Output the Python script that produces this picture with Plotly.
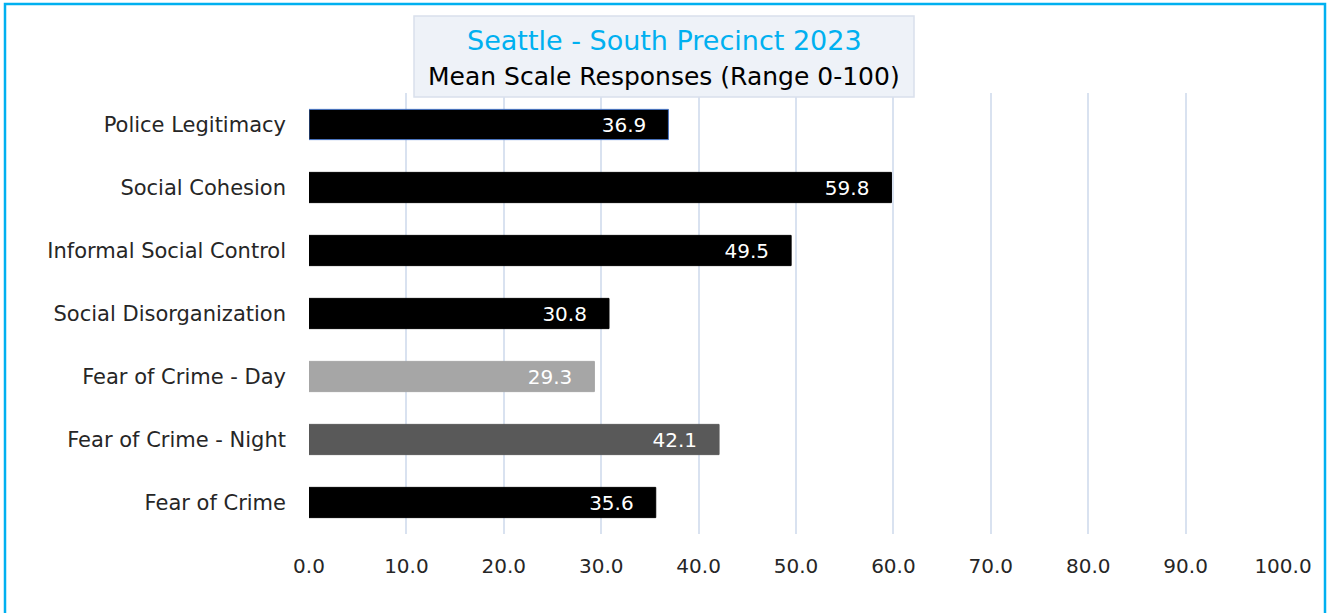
import plotly.graph_objects as go

categories = ["Police Legitimacy", "Social Cohesion", "Informal Social Control",
              "Social Disorganization", "Fear of Crime - Day", "Fear of Crime - Night",
              "Fear of Crime"]
values = [36.9, 59.8, 49.5, 30.8, 29.3, 42.1, 35.6]
bar_colors = ["#000000", "#000000", "#000000", "#000000", "#A6A6A6", "#595959", "#000000"]
edge_colors = ["#4472C4", "#000000", "#000000", "#000000", "#A6A6A6", "#595959", "#000000"]
tick_vals = [0, 10, 20, 30, 40, 50, 60, 70, 80, 90, 100]
tick_text = [f"{v:.1f}" for v in tick_vals]
title_line1 = "Seattle - South Precinct 2023"
title_line2 = "Mean Scale Responses (Range 0-100)"

FONT = "DejaVu Sans, sans-serif"
PAD = "\u00a0" * 3

fig = go.Figure()
fig.add_trace(go.Bar(
    y=categories, x=values, orientation="h",
    marker=dict(color=bar_colors, line=dict(color=edge_colors, width=1)),
    width=0.48,
    text=[f"{v:.1f}{PAD}" for v in values],
    textposition="inside", insidetextanchor="end",
    textfont=dict(color="white", size=20, family=FONT),
    cliponaxis=False,
))

fig.update_layout(
    width=1328, height=613,
    margin=dict(l=309, r=45, t=93, b=79),
    paper_bgcolor="white", plot_bgcolor="white",
    showlegend=False,
    font=dict(family=FONT, color="#262626", size=20),
    xaxis=dict(range=[0, 100], tickvals=tick_vals, ticktext=tick_text,
               showgrid=True, gridcolor="#D9E2F0", gridwidth=1.5,
               zeroline=False, showline=False, ticks="",
               ticklabelstandoff=18, tickfont=dict(size=20, family=FONT, color="#262626")),
    yaxis=dict(categoryorder="array", categoryarray=categories[::-1],
               showgrid=False, zeroline=False, showline=False, ticks="",
               ticklabelstandoff=22, tickfont=dict(size=21, family=FONT, color="#262626")),
    shapes=[
        dict(type="rect", xref="paper", yref="paper",
             x0=(414 - 309) / 974, x1=(914 - 309) / 974,
             y0=(534 - 97) / 441, y1=(534 - 16) / 441,
             fillcolor="#EEF2F8", line=dict(color="#D9E0EC", width=1.5), layer="above"),
        dict(type="rect", xref="paper", yref="paper",
             x0=(5 - 309) / 974, x1=(1325 - 309) / 974,
             y0=(534 - 640) / 441, y1=(534 - 4) / 441,
             fillcolor="rgba(0,0,0,0)", line=dict(color="#00B0F0", width=2.5)),
    ],
    annotations=[
        dict(text=title_line1, xref="paper", yref="paper",
             x=(664 - 309) / 974, y=(534 - 41) / 441, xanchor="center", yanchor="middle",
             showarrow=False, font=dict(size=27, color="#00B0F0", family=FONT)),
        dict(text=title_line2, xref="paper", yref="paper",
             x=(664 - 309) / 974, y=(534 - 76) / 441, xanchor="center", yanchor="middle",
             showarrow=False, font=dict(size=25, color="#000000", family=FONT)),
    ],
)

fig.write_html("out.html", config={"displayModeBar": False},
               post_script="document.body.style.margin='0';")
